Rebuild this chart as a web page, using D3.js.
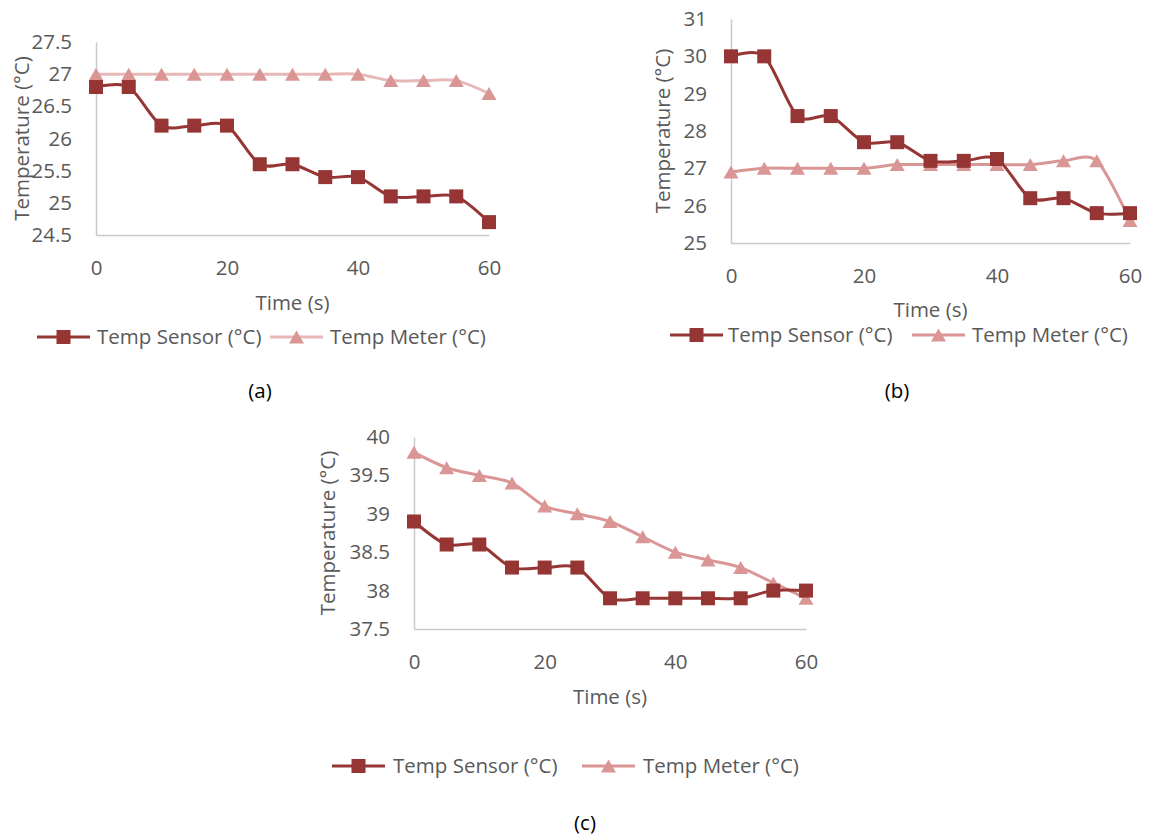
<!DOCTYPE html>
<html>
<head>
<meta charset="utf-8">
<script src="https://cdn.jsdelivr.net/npm/d3@7"></script>
<style>
  body { margin: 0; background: #fff; }
  svg { display: block; font-family: "Open Sans", sans-serif; }
  .tick text, .lbl { fill: #595959; }
</style>
</head>
<body>
<svg id="chart" width="1149" height="837"></svg>
<script>
"use strict";

// Shared time axis (s)
const times = [0, 5, 10, 15, 20, 25, 30, 35, 40, 45, 50, 55, 60];
const xTicks = [0, 20, 40, 60];

// Panel (a)
const sensorA = [26.8, 26.8, 26.2, 26.2, 26.2, 25.6, 25.6, 25.4, 25.4, 25.1, 25.1, 25.1, 24.7];
const meterA = [27, 27, 27, 27, 27, 27, 27, 27, 27, 26.9, 26.9, 26.9, 26.7];
const yTicksA = [24.5, 25, 25.5, 26, 26.5, 27, 27.5];

// Panel (b)
const sensorB = [30, 30, 28.4, 28.4, 27.7, 27.7, 27.2, 27.2, 27.25, 26.2, 26.2, 25.8, 25.8];
const meterB = [26.9, 27, 27, 27, 27, 27.1, 27.1, 27.1, 27.1, 27.1, 27.2, 27.2, 25.6];
const yTicksB = [25, 26, 27, 28, 29, 30, 31];

// Panel (c)
const sensorC = [38.9, 38.6, 38.6, 38.3, 38.3, 38.3, 37.9, 37.9, 37.9, 37.9, 37.9, 38.0, 38.0];
const meterC = [39.8, 39.6, 39.5, 39.4, 39.1, 39.0, 38.9, 38.7, 38.5, 38.4, 38.3, 38.1, 37.9];
const yTicksC = [37.5, 38, 38.5, 39, 39.5, 40];

const seriesNames = ["Temp Sensor (°C)", "Temp Meter (°C)"];
const captions = ["(a)", "(b)", "(c)"];

const SENSOR_COLOR = "#963634";
const METER_COLOR = "#d99694";
const FONT_SIZE = 20.5;
const SQUARE = 14;
const TRI_W = 15;
const TRI_H = 13;

const svg = d3.select("#chart");

function trianglePath(w, h) {
    return "M0," + (-h / 2) + "L" + (w / 2) + "," + (h / 2) + "L" + (-w / 2) + "," + (h / 2) + "Z";
}

function drawMarker(g, type, x, y, color) {
    if (type === "square") {
        g.append("rect")
            .attr("x", x - SQUARE / 2)
            .attr("y", y - SQUARE / 2)
            .attr("width", SQUARE)
            .attr("height", SQUARE)
            .attr("fill", color);
    } else {
        g.append("path")
            .attr("d", trianglePath(TRI_W, TRI_H))
            .attr("transform", "translate(" + x + "," + y + ")")
            .attr("fill", color);
    }
}

/**
 * Draws one panel: axes, both series, legend and caption.
 */
function drawPanel(p) {
    let g = svg.append("g");

    let x = d3.scaleLinear().domain([0, 60]).range([p.x0, p.x1]);
    let y = d3.scaleLinear().domain(p.yDomain).range([p.yBot, p.yTop]);

    // Axes
    let yAxis = g.append("g")
        .attr("transform", "translate(" + p.x0 + ",0)")
        .call(d3.axisLeft(y).tickValues(p.yTicks).tickFormat(d => d).tickSize(0).tickPadding(24));
    let xAxis = g.append("g")
        .attr("transform", "translate(0," + p.yBot + ")")
        .call(d3.axisBottom(x).tickValues(xTicks).tickFormat(d => d).tickSize(0).tickPadding(25));
    [xAxis, yAxis].forEach(function (a) {
        a.select(".domain").attr("stroke", "#c9c9c9").attr("stroke-width", 1.5);
        a.selectAll(".tick text")
            .style("font-size", FONT_SIZE + "px")
            .style("font-family", "'Open Sans', sans-serif");
    });

    // Axis titles
    g.append("text")
        .attr("class", "lbl")
        .attr("x", (p.x0 + p.x1) / 2)
        .attr("y", p.timeY)
        .attr("dy", "0.35em")
        .attr("text-anchor", "middle")
        .style("font-size", FONT_SIZE + "px")
        .text("Time (s)");
    g.append("text")
        .attr("class", "lbl")
        .attr("transform", "translate(" + p.titleX + "," + ((p.yTop + p.yBot) / 2) + ") rotate(-90)")
        .attr("dy", "0.35em")
        .attr("text-anchor", "middle")
        .style("font-size", FONT_SIZE + "px")
        .text("Temperature (°C)");

    // Series (smoothed like the original)
    let line = d3.line()
        .x((d, i) => x(times[i]))
        .y(d => y(d))
        .curve(d3.curveCardinal.tension(0.15));

    let series = [
        {values: p.sensor, color: SENSOR_COLOR, lineColor: SENSOR_COLOR, marker: "square"},
        {values: p.meter, color: METER_COLOR, lineColor: p.meterLine, marker: "triangle"}
    ];
    // Meter drawn first, sensor on top (matches overlap order)
    [series[1], series[0]].forEach(function (s) {
        g.append("path")
            .datum(s.values)
            .attr("d", line)
            .attr("fill", "none")
            .attr("stroke", s.lineColor)
            .attr("stroke-width", 3)
            .attr("stroke-linejoin", "round");
        let mg = g.append("g");
        s.values.forEach(function (v, i) {
            drawMarker(mg, s.marker, x(times[i]), y(v), s.color);
        });
    });

    // Legend
    let lg = g.append("g");
    series.forEach(function (s, i) {
        let it = p.legend[i];
        lg.append("line")
            .attr("x1", it.x1).attr("x2", it.x2)
            .attr("y1", p.legendY).attr("y2", p.legendY)
            .attr("stroke", s.lineColor)
            .attr("stroke-width", 3);
        drawMarker(lg, s.marker, (it.x1 + it.x2) / 2, p.legendY, s.color);
        lg.append("text")
            .attr("class", "lbl")
            .attr("x", it.tx)
            .attr("y", p.legendY)
            .attr("dy", "0.35em")
            .style("font-size", FONT_SIZE + "px")
            .text(seriesNames[i]);
    });

    // Caption
    g.append("text")
        .attr("x", p.capX)
        .attr("y", p.capY)
        .attr("dy", "0.35em")
        .attr("text-anchor", "middle")
        .attr("fill", "#000")
        .style("font-size", FONT_SIZE + "px")
        .text(p.caption);
}

drawPanel({
    sensor: sensorA, meter: meterA, yTicks: yTicksA, yDomain: [24.5, 27.5],
    meterLine: "#e6b9b8",
    x0: 96, x1: 489, yTop: 42, yBot: 235,
    timeY: 303, titleX: 22,
    legendY: 337,
    legend: [{x1: 37, x2: 90, tx: 97}, {x1: 270, x2: 323, tx: 330}],
    caption: captions[0], capX: 260, capY: 391
});

drawPanel({
    sensor: sensorB, meter: meterB, yTicks: yTicksB, yDomain: [25, 31],
    meterLine: METER_COLOR,
    x0: 731, x1: 1130, yTop: 19, yBot: 243,
    timeY: 310, titleX: 663,
    legendY: 335,
    legend: [{x1: 670, x2: 723, tx: 728}, {x1: 912, x2: 965, tx: 972}],
    caption: captions[1], capX: 897, capY: 391
});

drawPanel({
    sensor: sensorC, meter: meterC, yTicks: yTicksC, yDomain: [37.5, 40],
    meterLine: METER_COLOR,
    x0: 414, x1: 806, yTop: 437, yBot: 629,
    timeY: 697, titleX: 328,
    legendY: 766,
    legend: [{x1: 332, x2: 385, tx: 393}, {x1: 582, x2: 635, tx: 643}],
    caption: captions[2], capX: 585, capY: 823
});
</script>
</body>
</html>
